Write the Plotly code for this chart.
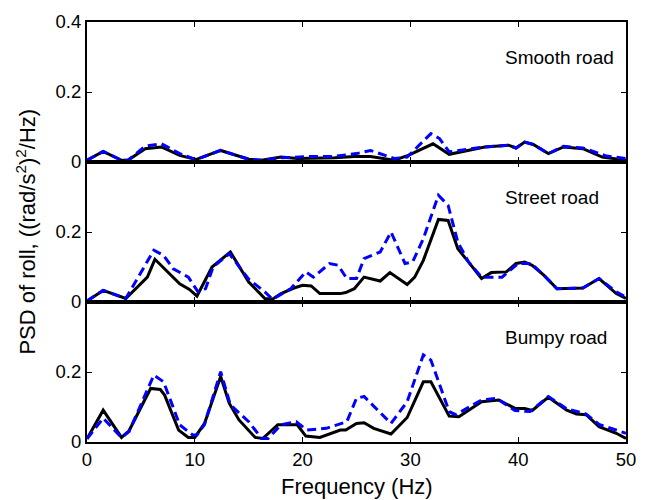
import plotly.graph_objects as go
from plotly.subplots import make_subplots

# ---- data ----
road_labels = ["Smooth road", "Street road", "Bumpy road"]

smooth_f_black = [0, 1.5, 3.2, 3.8, 5.4, 6.9, 8.6, 10.1, 12.4, 15, 16.2, 18, 19.5, 21, 23, 24.8, 26.3, 28.5, 29.8,
                  32.1, 33.6, 36.9, 39.1, 39.8, 40.6, 41.4, 42.8, 44.2, 46, 47.8, 50]
smooth_v_black = [.005, .03, .005, .005, .038, .043, .019, .007, .033, .008, .005, .014, .01, .01, .012, .016, .016,
                  .005, .019, .052, .022, .043, .048, .04, .057, .05, .024, .043, .038, .014, .005]
smooth_f_blue = [0, 1.5, 3.2, 3.8, 5.4, 6.9, 8.6, 10.1, 12.4, 15, 16.2, 18, 21, 22.9, 25, 26.3, 28.5, 29.7, 31.9,
                 32.7, 33.6, 36.9, 39.1, 39.8, 40.6, 41.4, 42.8, 44.2, 46, 48.2, 50]
smooth_v_blue = [.005, .03, .005, .005, .045, .052, .024, .007, .033, .008, .005, .012, .016, .016, .024, .033, .01,
                 .014, .081, .067, .029, .043, .048, .04, .057, .05, .024, .045, .04, .017, .01]

street_f_black = [0, 1.5, 3.6, 5.6, 6.3, 8.6, 9.5, 10.2, 11.6, 13.3, 15, 16.5, 17.2, 18, 19.2, 20, 20.8, 21.6, 23.5,
                  24, 24.8, 25.7, 27.2, 28.1, 29.7, 30.4, 31.2, 32.6, 33.5, 34.4, 35.4, 36.6, 37.5, 38.9, 39.8,
                  40.6, 41.3, 42.4, 43.6, 46, 47.5, 49.1, 50]
street_v_black = [.003, .033, .01, .071, .122, .052, .036, .017, .1, .143, .057, .01, .008, .024, .04, .048, .046,
                  .024, .024, .027, .038, .071, .06, .084, .05, .071, .119, .236, .233, .152, .114, .067, .084, .086,
                  .11, .114, .105, .076, .038, .04, .067, .024, .01]
street_f_blue = [0, 1.5, 3.6, 6.2, 7.1, 8, 9.4, 10.3, 11, 11.7, 13.2, 15, 16.5, 17.2, 18.9, 20.3, 21, 22.5, 23.3,
                 24.1, 25, 25.7, 27.2, 28.2, 29.5, 30.2, 31.2, 32.6, 33.5, 34.4, 35.4, 36.6, 38.5, 39.1, 40, 41.2,
                 42.4, 43.6, 46, 47.5, 49.1, 50]
street_v_blue = [.003, .033, .01, .148, .133, .095, .071, .029, .038, .1, .138, .065, .029, .008, .038, .086, .071,
                 .11, .105, .067, .067, .124, .143, .2, .11, .114, .181, .305, .276, .171, .114, .071, .071, .086,
                 .11, .11, .076, .038, .04, .067, .029, .014]

bumpy_f_black = [0, 1.5, 3.2, 3.9, 5.9, 6.8, 7.2, 8.5, 9.4, 10, 10.9, 12.4, 13.2, 14.1, 15.6, 16.3, 17.7, 19.5, 20.3,
                 21.6, 23.5, 24, 25, 25.7, 26.6, 28.2, 29.7, 31.2, 31.9, 33.6, 34.5, 36.6, 38.2, 39.7, 40.6, 41.3,
                 42.8, 44.5, 45.4, 46.3, 47.5, 49.1, 50]
bumpy_v_black = [.009, .091, .013, .032, .153, .15, .134, .034, .013, .013, .053, .187, .11, .063, .013, .01, .049,
                 .049, .017, .013, .034, .034, .053, .055, .039, .023, .07, .172, .172, .074, .072, .115, .12, .096,
                 .096, .09, .128, .091, .08, .078, .044, .025, .01]
bumpy_f_blue = [0, 1.5, 3.2, 3.9, 6.2, 7.1, 8.6, 9.8, 10.2, 10.9, 12.4, 13.3, 15, 16.2, 16.8, 18, 19.4, 20.4, 22.2,
                24.1, 25, 25.7, 28.2, 29.7, 31.2, 31.9, 33.6, 34.2, 36.6, 38, 39.7, 41.1, 42.8, 44.5, 46.3, 47.5, 50]
bumpy_v_blue = [.009, .068, .013, .03, .191, .172, .049, .02, .02, .05, .201, .106, .058, .01, .01, .049, .058, .034,
                .039, .058, .125, .13, .053, .115, .249, .234, .087, .078, .12, .125, .09, .087, .13, .095, .08,
                .05, .025]

x_ticks = [0, 10, 20, 30, 40, 50]
y_ticks = [0, 0.2, 0.4]

panels = [
    (smooth_f_black, smooth_v_black, smooth_f_blue, smooth_v_blue),
    (street_f_black, street_v_black, street_f_blue, street_v_blue),
    (bumpy_f_black, bumpy_v_black, bumpy_f_blue, bumpy_v_blue),
]

FONT = "Liberation Sans, Arial, sans-serif"

fig = make_subplots(rows=3, cols=1, shared_xaxes=True, vertical_spacing=0)

for i, (fb, vb, fu, vu) in enumerate(panels, start=1):
    fig.add_trace(go.Scatter(x=fb, y=vb, mode="lines",
                             line=dict(color="black", width=3), showlegend=False), row=i, col=1)
    fig.add_trace(go.Scatter(x=fu, y=vu, mode="lines",
                             line=dict(color="#0000ff", width=3, dash="9px,5px"), showlegend=False), row=i, col=1)
    fig.add_annotation(x=38.6, y=0.3, xref=f"x{i if i > 1 else ''}", yref=f"y{i if i > 1 else ''}",
                       text=road_labels[i - 1], showarrow=False, xanchor="left", yanchor="middle",
                       font=dict(family=FONT, size=19, color="black"))
    fig.update_yaxes(range=[0, 0.4], tickvals=y_ticks,
                     ticktext=["0", "0.2", "0.4" if i == 1 else ""],
                     ticks="inside", ticklen=5, tickwidth=1, tickcolor="black",
                     showline=True, linecolor="black", linewidth=2, mirror="ticks",
                     showgrid=False, zeroline=False,
                     tickfont=dict(family=FONT, size=18.5, color="black"), row=i, col=1)
    fig.update_xaxes(range=[0, 50], tickvals=x_ticks,
                     ticks="inside", ticklen=5, tickwidth=1, tickcolor="black",
                     showline=True, linecolor="black", linewidth=2, mirror="ticks",
                     showgrid=False, zeroline=False, showticklabels=(i == 3),
                     tickfont=dict(family=FONT, size=18.5, color="black"), row=i, col=1)

fig.add_annotation(x=0.5, y=-0.107, xref="paper", yref="paper",
                   text="Frequency (Hz)", showarrow=False, xanchor="center", yanchor="middle",
                   font=dict(family=FONT, size=22, color="black"))

fig.add_annotation(x=-0.114, y=0.5, xref="paper", yref="paper", textangle=-90,
                   text="PSD of roll, ((rad/s<sup>2</sup>)<sup>2</sup>/Hz)", showarrow=False,
                   xanchor="center", yanchor="middle",
                   font=dict(family=FONT, size=22, color="black"))

fig.update_layout(width=647, height=500, margin=dict(l=87, r=11, t=20, b=58),
                  plot_bgcolor="white", paper_bgcolor="white", showlegend=False)

fig.write_html("out.html")
